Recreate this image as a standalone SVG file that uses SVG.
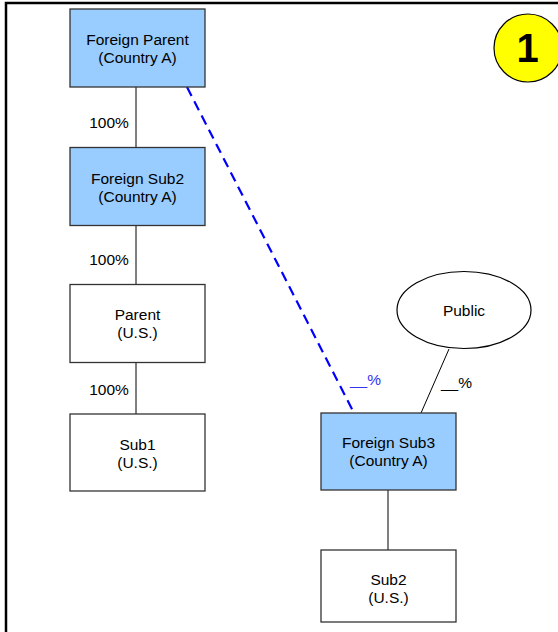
<svg xmlns="http://www.w3.org/2000/svg" width="558" height="632" viewBox="0 0 558 632">
<style>
text{font-family:"Liberation Sans",Arial,sans-serif;font-size:15.5px;fill:#000}
.box{stroke:#333;stroke-width:1.3}
.blue{fill:#99CCFF}
.white{fill:#fff}
.c{text-anchor:middle}
.ln{stroke:#000;stroke-width:1;fill:none}
</style>
<rect width="558" height="632" fill="#fff"/>
<path d="M6,632 V3 H558" fill="none" stroke="#000" stroke-width="2.5"/>
<g id="connectors">
<line class="ln" x1="136" y1="87" x2="136" y2="148"/>
<line class="ln" x1="136" y1="226" x2="136" y2="285"/>
<line class="ln" x1="136" y1="363" x2="136" y2="414"/>
<line class="ln" x1="388" y1="490" x2="388" y2="550"/>
<line class="ln" x1="449" y1="349" x2="421" y2="413"/>
<line x1="187" y1="87" x2="354" y2="413" stroke="#0000FF" stroke-width="2.2" stroke-dasharray="10,6"/>
<text x="109" y="128" class="c">100%</text>
<text x="109" y="265" class="c">100%</text>
<text x="109" y="395" class="c">100%</text>
<text x="365.5" y="385" class="c" style="fill:#3333EE">__%</text>
<text x="456.5" y="388" class="c">__%</text>
</g>
<g id="foreign-parent"><rect class="box blue" x="70" y="9" width="135" height="78"/><text x="137.5" y="45" class="c">Foreign Parent</text><text x="137.5" y="63" class="c">(Country A)</text></g>
<g id="foreign-sub2"><rect class="box blue" x="70" y="147.5" width="135" height="78"/><text x="137.5" y="183.5" class="c">Foreign Sub2</text><text x="137.5" y="201.5" class="c">(Country A)</text></g>
<g id="parent"><rect class="box white" x="70" y="284.5" width="135" height="78"/><text x="137.5" y="320" class="c">Parent</text><text x="137.5" y="338" class="c">(U.S.)</text></g>
<g id="sub1"><rect class="box white" x="70" y="414" width="135" height="77"/><text x="137.5" y="449.5" class="c">Sub1</text><text x="137.5" y="467.5" class="c">(U.S.)</text></g>
<g id="foreign-sub3"><rect class="box blue" x="321" y="413" width="135" height="77"/><text x="388.5" y="447.5" class="c">Foreign Sub3</text><text x="388.5" y="465.5" class="c">(Country A)</text></g>
<g id="sub2"><rect class="box white" x="321" y="550" width="135" height="72"/><text x="388.5" y="584.5" class="c">Sub2</text><text x="388.5" y="602.5" class="c">(U.S.)</text></g>
<g id="public"><ellipse cx="464" cy="310" rx="67" ry="38.5" fill="#fff" stroke="#000" stroke-width="1.2"/><text x="464" y="316" class="c">Public</text></g>
<g id="badge"><circle cx="528" cy="48" r="34" fill="#FFFF00" stroke="#000" stroke-width="1.2"/><text x="527.5" y="62" class="c" style="font-size:40px;font-weight:bold">1</text></g>
</svg>
